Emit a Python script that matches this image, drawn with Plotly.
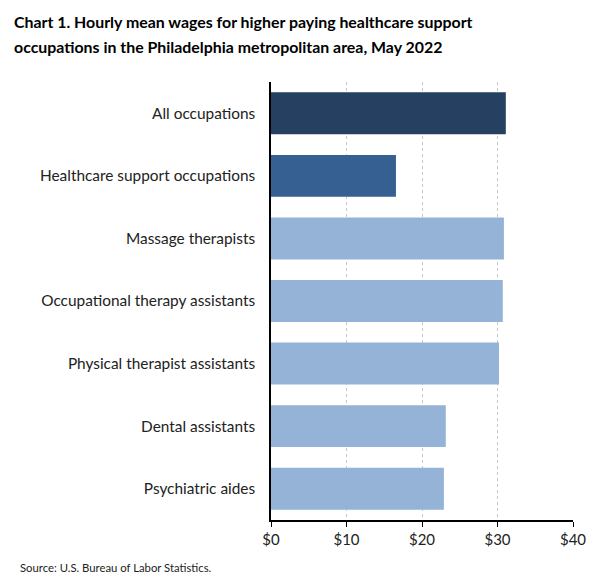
import plotly.graph_objects as go

categories = ["All occupations", "Healthcare support occupations", "Massage therapists",
              "Occupational therapy assistants", "Physical therapist assistants",
              "Dental assistants", "Psychiatric aides"]
wages = [31.1, 16.55, 30.85, 30.7, 30.2, 23.15, 22.9]
colors = ["#254061", "#366092", "#95B3D7", "#95B3D7", "#95B3D7", "#95B3D7", "#95B3D7"]
tick_vals = [0, 10, 20, 30, 40]
tick_text = ["$0", "$10", "$20", "$30", "$40"]
title_lines = ["Chart 1. Hourly mean wages for higher paying healthcare support",
               "occupations in the Philadelphia metropolitan area, May 2022"]
source_text = "Source: U.S. Bureau of Labor Statistics."

W, H = 601, 577
L, R, T, B = 271, 28, 82, 57
PW, PH = W - L - R, H - T - B

fig = go.Figure(go.Bar(
    x=wages, y=categories, orientation="h",
    marker=dict(color=colors, line=dict(width=0)),
    hovertemplate="%{y}: $%{x:.2f}<extra></extra>",
))

annotations = []
for i, line in enumerate(title_lines):
    annotations.append(dict(
        text="<b>" + line + "</b>", xref="paper", yref="paper",
        x=(12 - L) / PW, y=1 + (T - (22 + 25 * i)) / PH,
        xanchor="left", yanchor="middle", showarrow=False,
        font=dict(family="Lato, Carlito, sans-serif", size=15.9, color="#000000"),
    ))
annotations.append(dict(
    text=source_text, xref="paper", yref="paper",
    x=(18 - L) / PW, y=-(567 - (T + PH)) / PH, xanchor="left", yanchor="middle", showarrow=False,
    font=dict(family="Lato, Carlito, sans-serif", size=11.3, color="#222222"),
))

fig.update_layout(
    width=W, height=H,
    margin=dict(l=L, r=R, t=T, b=B),
    paper_bgcolor="white", plot_bgcolor="white",
    bargap=0.33,
    showlegend=False,
    font=dict(family="Lato, Carlito, sans-serif", size=15, color="#222222"),
    xaxis=dict(
        range=[0, 40], tickvals=tick_vals, ticktext=tick_text,
        showgrid=True, gridcolor="#c8c8c8", griddash="3px,3px", gridwidth=1,
        showline=True, linecolor="black", linewidth=1.5,
        ticks="outside", ticklen=5, tickcolor="black",
        tickfont=dict(size=15, color="#222222"), zeroline=False, fixedrange=True,
    ),
    yaxis=dict(
        autorange="reversed", showline=True, linecolor="black", linewidth=1.5,
        ticks="", ticklabelstandoff=11, tickfont=dict(size=15.4, color="#222222"),
        showgrid=False, fixedrange=True,
    ),
    annotations=annotations,
)

fig.write_html("out.html", config={"displayModeBar": False},
               post_script="document.body.style.margin='0';document.body.style.overflow='hidden';")
